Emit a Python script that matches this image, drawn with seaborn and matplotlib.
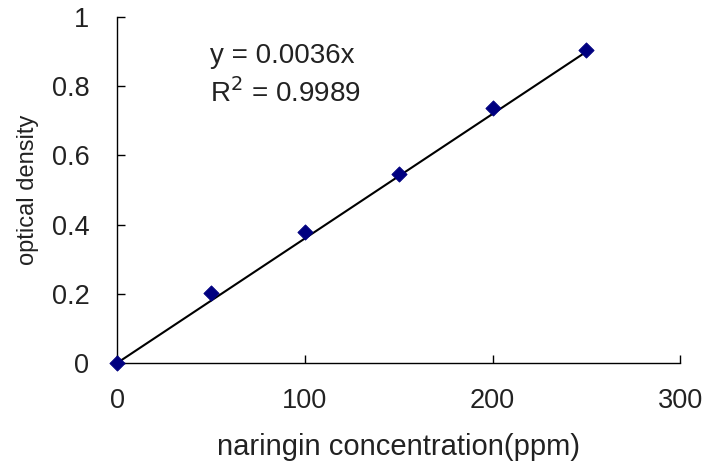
import matplotlib
matplotlib.use("Agg")
import matplotlib.pyplot as plt
import seaborn as sns
import pandas as pd
import numpy as np

# standard curve data
concentration = [0, 50, 100, 150, 200, 250]
density = [0.0, 0.201, 0.378, 0.547, 0.737, 0.905]
slope = 0.0036
r_squared = 0.9989

sns.set_style("ticks")
plt.rcParams["font.family"] = ["Liberation Sans", "DejaVu Sans"]

df = pd.DataFrame({"conc": concentration, "od": density})
fit = pd.DataFrame({"conc": [concentration[0], concentration[-1]]})
fit["od"] = slope * fit["conc"]

fig = plt.figure(figsize=(7.1, 4.63), dpi=100)
ax = fig.add_axes([0.165, 0.216, 0.793, 0.747])

sns.lineplot(data=fit, x="conc", y="od", color="black", linewidth=1.5, ax=ax)
sns.scatterplot(data=df, x="conc", y="od", marker="D", s=60, color="#000080",
                edgecolor="#000080", zorder=3, clip_on=False, ax=ax)

ax.set_xlim(0, 300)
ax.set_ylim(0, 1)
ax.set_xticks([0, 100, 200, 300])
ax.set_yticks([0, 0.2, 0.4, 0.6, 0.8, 1])
ax.set_yticklabels(["0", "0.2", "0.4", "0.6", "0.8", "1"])
ax.tick_params(direction="in", length=6, width=1, labelsize=19.5, colors="black",
               labelcolor="#222222")
ax.tick_params(axis="x", pad=18)
ax.tick_params(axis="y", pad=20)
for side in ["left", "bottom"]:
    ax.spines[side].set_linewidth(1)
    ax.spines[side].set_color("black")
sns.despine(ax=ax)

ax.set_xlabel("naringin concentration(ppm)", fontsize=21, labelpad=14, color="#222222")
ax.set_ylabel("optical density", fontsize=17, labelpad=9, color="#222222")

ax.text(0.165, 0.867, f"y = {slope}x", transform=ax.transAxes, fontsize=20,
        va="baseline", color="#222222")
ax.text(0.165, 0.755, f"R$^2$ = {r_squared}", transform=ax.transAxes, fontsize=20,
        va="baseline", color="#222222")

fig.savefig("out.png", dpi=100)
